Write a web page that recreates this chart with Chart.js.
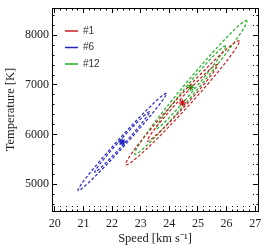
<!DOCTYPE html>
<html>
<head>
<meta charset="utf-8">
<script src="https://cdn.jsdelivr.net/npm/chart.js@4"></script>
<style>
  html, body { margin: 0; padding: 0; background: #fff; }
</style>
</head>
<body>
<canvas id="chart" width="266" height="251"></canvas>
<script>
// series
const seriesLabels = ['#1', '#6', '#12'];
const seriesColors = ['#c81e1e', '#2424c4', '#1fae1f'];
const centerSpeed = [24.46, 22.35, 24.75];
const centerTemp = [6640, 5850, 6950];
const sigmaSpeed = [0.81, 0.63, 0.80];
const sigmaTemp = [510, 400, 550];
const correlation = [0.988, 0.992, 0.989];
const levels = [1.52, 2.45]; // inner (68%) and outer (95%) contours

const xTicks = [20, 21, 22, 23, 24, 25, 26, 27];
const yTicks = [5000, 6000, 7000, 8000];
const xRange = [19.9, 27.1];
const yRange = [4460, 8550];

function ellipse(i, k) {
  let pts = [];
  let r = correlation[i];
  for (let n = 0; n <= 160; n++) {
    let t = n / 160 * 2 * Math.PI;
    pts.push({
      x: centerSpeed[i] + k * sigmaSpeed[i] * Math.cos(t),
      y: centerTemp[i] + k * sigmaTemp[i] * (r * Math.cos(t) + Math.sqrt(1 - r * r) * Math.sin(t))
    });
  }
  return pts;
}

function tickPositions(lo, hi, step) {
  let out = [];
  for (let v = Math.ceil(lo / step) * step; v <= hi + 1e-9; v += step) out.push(+v.toFixed(4));
  return out;
}

let datasets = [];
seriesLabels.forEach((name, i) => {
  levels.forEach((k, j) => {
    datasets.push({
      label: j == 0 ? name : '',
      data: ellipse(i, k),
      showLine: true,
      borderColor: seriesColors[i],
      borderWidth: 1.2,
      borderDash: [3, 2],
      pointRadius: 0,
      fill: false
    });
  });
  datasets.push({
    label: '',
    data: [{x: centerSpeed[i], y: centerTemp[i]}],
    pointStyle: 'star',
    pointRadius: 3.5,
    borderColor: seriesColors[i],
    borderWidth: 1.3
  });
});

const serif = 'Liberation Serif';
const tickFont = {family: serif, size: 12};
const xAll = tickPositions(xRange[0], xRange[1], 0.2);
const yAll = tickPositions(yRange[0], yRange[1], 200);

// one scale per side; minor ticks are the major tick length cut short with a dash
function axis(position, size, extra) {
  let horizontal = position == 'bottom' || position == 'top';
  let majors = horizontal ? xTicks : yTicks;
  let isMajor = v => majors.some(m => Math.abs(m - v) < 1e-6);
  let shifted = position == 'top' || position == 'left';
  return Object.assign({
    type: 'linear',
    position: position,
    min: horizontal ? xRange[0] : yRange[0],
    max: horizontal ? xRange[1] : yRange[1],
    afterBuildTicks: s => { s.ticks = (horizontal ? xAll : yAll).map(v => ({value: v})); },
    ticks: {display: false},
    grid: {
      drawOnChartArea: false,
      tickLength: -5,
      color: '#000',
      tickWidth: 1,
      tickBorderDash: c => c.tick && !isMajor(c.tick.value) ? [2.5, 2.5] : [],
      tickBorderDashOffset: c => c.tick && !isMajor(c.tick.value) && shifted ? 2.5 : 0
    },
    border: {display: true, color: '#000', width: 1},
    afterFit: s => {
      if (horizontal) s.height = size; else s.width = size;
      s.paddingLeft = s.paddingRight = s.paddingTop = s.paddingBottom = 0;
    }
  }, extra || {});
}

new Chart(document.getElementById('chart'), {
  type: 'scatter',
  data: {datasets: datasets},
  options: {
    responsive: false,
    animation: false,
    devicePixelRatio: 1,
    layout: {padding: {top: 8, right: 8, left: 0, bottom: 0}},
    plugins: {
      tooltip: {enabled: false},
      legend: {
        position: 'chartArea',
        align: 'start',
        labels: {
          usePointStyle: true,
          pointStyleWidth: 13,
          padding: 6.5,
          color: '#333',
          font: {family: 'Liberation Sans', size: 10},
          generateLabels: chart => seriesLabels.map((name, i) => ({
            text: name,
            fillStyle: seriesColors[i],
            strokeStyle: seriesColors[i],
            lineWidth: 1.5,
            lineDash: [],
            pointStyle: 'line',
            hidden: false,
            fontColor: '#333',
            datasetIndex: i * 3
          }))
        }
      }
    },
    scales: {
      x: axis('bottom', 40, {
        ticks: {display: true, font: tickFont, color: '#222', padding: 11, autoSkip: false, maxRotation: 0,
                callback: v => xTicks.some(m => Math.abs(m - v) < 1e-6) ? String(Math.round(v)) : ''},
        title: {display: true, text: 'Speed [km s\u207B\u00B9]', font: {family: serif, size: 12.5}, color: '#222',
                padding: {top: 0, bottom: 5}}
      }),
      xTop: axis('top', 0),
      y: axis('left', 52, {
        ticks: {display: true, font: tickFont, color: '#222', padding: 8, autoSkip: false,
                callback: v => yTicks.includes(v) ? String(v) : ''},
        title: {display: true, text: 'Temperature [K]', font: {family: serif, size: 12.5}, color: '#222',
                padding: {top: 3, bottom: 0}}
      }),
      yRight: axis('right', 0)
    }
  },
  plugins: [{
    id: 'legendOffset',
    afterLayout(chart) {
      chart.legend.left += 6.5;
      chart.legend.top += 19.5;
    }
  }]
});
</script>
</body>
</html>
